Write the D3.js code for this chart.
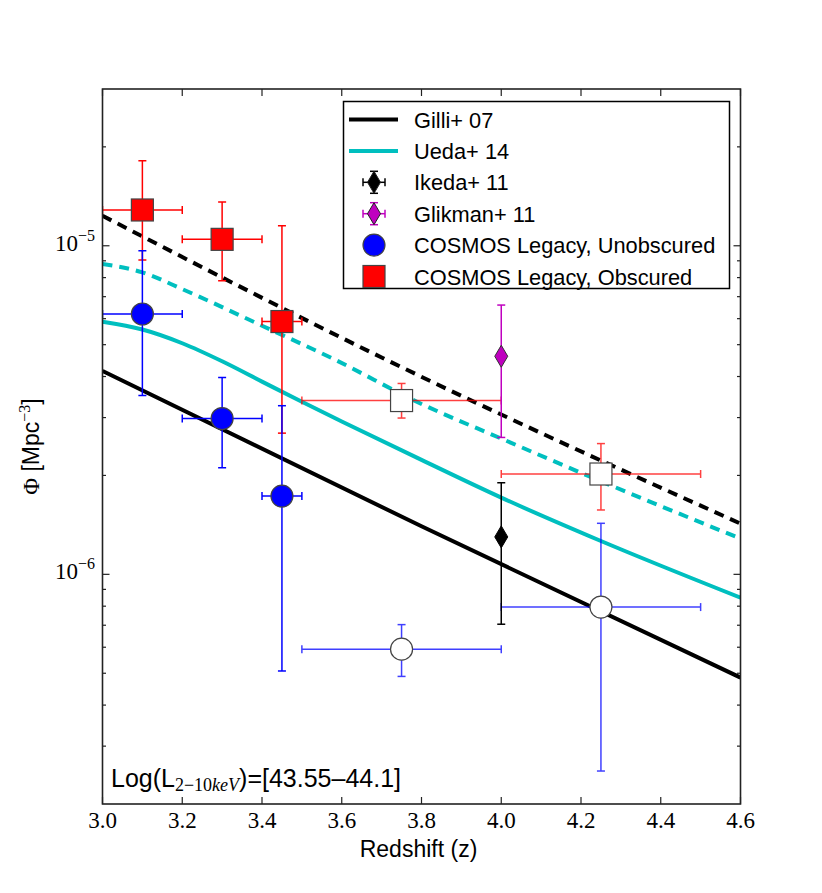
<!DOCTYPE html>
<html>
<head>
<meta charset="utf-8">
<script src="https://cdn.jsdelivr.net/npm/d3@7"></script>
<style>
  body { margin: 0; background: #fff; }
  text { fill: #000; }
</style>
</head>
<body>
<svg id="chart" width="822" height="893"></svg>
<script>
"use strict";

// courbes de modèle
var gilliZ = [3.0, 3.8, 4.6]
var gilliPhi = [4.16e-6, 1.40e-6, 4.85e-7]
var gilliObsZ = [3.0, 3.7, 4.6]
var gilliObsPhi = [1.234e-5, 4.57e-6, 1.427e-6]
var uedaZ = [3.0, 3.1, 3.2, 3.3, 3.4, 3.5, 3.6, 3.8, 4.0, 4.25, 4.6]
var uedaPhi = [5.87e-6, 5.56e-6, 5.05e-6, 4.45e-6, 3.86e-6, 3.35e-6, 2.92e-6, 2.23e-6, 1.712e-6, 1.263e-6, 8.49e-7]
var uedaObsZ = [3.0, 3.1, 3.2, 3.4, 3.58, 3.8, 4.0, 4.25, 4.6]
var uedaObsPhi = [8.8e-6, 8.3e-6, 7.38e-6, 5.71e-6, 4.52e-6, 3.30e-6, 2.59e-6, 1.92e-6, 1.285e-6]

// COSMOS Legacy, non obscurcis
var unobsZ = [3.1, 3.3, 3.45, 3.75, 4.25]
var unobsZLo = [3.0, 3.2, 3.4, 3.5, 4.0]
var unobsZHi = [3.2, 3.4, 3.5, 4.0, 4.5]
var unobsPhi = [6.2e-6, 2.98e-6, 1.73e-6, 5.92e-7, 7.95e-7]
var unobsPhiLo = [3.5e-6, 2.11e-6, 5.08e-7, 4.89e-7, 2.52e-7]
var unobsPhiHi = [9.66e-6, 3.97e-6, 3.26e-6, 7.03e-7, 1.43e-6]
var unobsOpen = [false, false, false, true, true]

// COSMOS Legacy, obscurcis
var obsZ = [3.1, 3.3, 3.45, 3.75, 4.25]
var obsZLo = [3.0, 3.2, 3.4, 3.5, 4.0]
var obsZHi = [3.2, 3.4, 3.5, 4.0, 4.5]
var obsPhi = [1.285e-5, 1.046e-5, 5.88e-6, 3.38e-6, 2.02e-6]
var obsPhiLo = [9.05e-6, 7.82e-6, 2.69e-6, 2.99e-6, 1.57e-6]
var obsPhiHi = [1.815e-5, 1.36e-5, 1.15e-5, 3.81e-6, 2.5e-6]
var obsOpen = [false, false, false, true, true]

// Ikeda+ 11 et Glikman+ 11
var ikedaZ = [4.0], ikedaPhi = [1.30e-6], ikedaPhiLo = [7.05e-7], ikedaPhiHi = [1.90e-6]
var glikZ = [4.0], glikPhi = [4.61e-6], glikPhiLo = [2.61e-6], glikPhiHi = [6.6e-6]

var xTicks = [3.0, 3.2, 3.4, 3.6, 3.8, 4.0, 4.2, 4.4, 4.6]
var yMajor = [1e-6, 1e-5]
var yMajorLabels = ["\u22126", "\u22125"]

var legendLabels = ["Gilli+ 07", "Ueda+ 14", "Ikeda+ 11", "Glikman+ 11",
  "COSMOS Legacy, Unobscured", "COSMOS Legacy, Obscured"]

var svg = d3.select("#chart")
var m = { left: 102.5, right: 740.5, top: 89, bottom: 804 }
var serif = "'Liberation Serif', 'DejaVu Serif', serif"
var sans = "'Liberation Sans', Arial, sans-serif"

var x = d3.scaleLinear().domain([3.0, 4.6]).range([m.left, m.right])
var y = d3.scaleLog().domain([2e-7, 3e-5]).range([m.bottom, m.top])

svg.append("clipPath").attr("id", "clip")
  .append("rect")
    .attr("x", m.left).attr("y", m.top)
    .attr("width", m.right - m.left).attr("height", m.bottom - m.top)

var plot = svg.append("g").attr("clip-path", "url(#clip)")

function zip(zs, phis) {
  return zs.map(function(z, i) { return [z, phis[i]] })
}

var line = d3.line()
  .x(function(d) { return x(d[0]) })
  .y(function(d) { return y(d[1]) })
  .curve(d3.curveMonotoneX)

var curves = [
  { data: zip(gilliZ, gilliPhi), color: "#000000", dash: null },
  { data: zip(gilliObsZ, gilliObsPhi), color: "#000000", dash: "10,7" },
  { data: zip(uedaZ, uedaPhi), color: "#00bfbf", dash: null },
  { data: zip(uedaObsZ, uedaObsPhi), color: "#00bfbf", dash: "10,7" }
]

plot.selectAll("path.model")
  .data(curves)
  .enter()
  .append("path")
    .attr("class", "model")
    .attr("d", function(d) { return line(d.data) })
    .attr("fill", "none")
    .attr("stroke", function(d) { return d.color })
    .attr("stroke-width", 4)
    .attr("stroke-dasharray", function(d) { return d.dash })

// barres d'erreur
function errorBars(g, pts, color) {
  var cap = 4
  pts.forEach(function(p) {
    var e = g.append("g")
      .attr("stroke", color)
      .attr("stroke-width", 1.5)
      .attr("opacity", p.open ? 0.75 : 1)
    var cx = x(p.z), cy = y(p.phi)
    e.append("line").attr("x1", cx).attr("x2", cx).attr("y1", y(p.lo)).attr("y2", y(p.hi))
    e.append("line").attr("x1", cx - cap).attr("x2", cx + cap).attr("y1", y(p.lo)).attr("y2", y(p.lo))
    e.append("line").attr("x1", cx - cap).attr("x2", cx + cap).attr("y1", y(p.hi)).attr("y2", y(p.hi))
    if (p.zLo != null) {
      e.append("line").attr("x1", x(p.zLo)).attr("x2", x(p.zHi)).attr("y1", cy).attr("y2", cy)
      e.append("line").attr("x1", x(p.zLo)).attr("x2", x(p.zLo)).attr("y1", cy - cap).attr("y2", cy + cap)
      e.append("line").attr("x1", x(p.zHi)).attr("x2", x(p.zHi)).attr("y1", cy - cap).attr("y2", cy + cap)
    }
  })
}

function points(zs, zLo, zHi, phis, lo, hi, open) {
  return zs.map(function(z, i) {
    return {
      z: z, zLo: zLo ? zLo[i] : null, zHi: zHi ? zHi[i] : null,
      phi: phis[i], lo: lo[i], hi: hi[i], open: open ? open[i] : false
    }
  })
}

var unobsPts = points(unobsZ, unobsZLo, unobsZHi, unobsPhi, unobsPhiLo, unobsPhiHi, unobsOpen)
var obsPts = points(obsZ, obsZLo, obsZHi, obsPhi, obsPhiLo, obsPhiHi, obsOpen)
var ikedaPts = points(ikedaZ, null, null, ikedaPhi, ikedaPhiLo, ikedaPhiHi, null)
var glikPts = points(glikZ, null, null, glikPhi, glikPhiLo, glikPhiHi, null)

var errG = plot.append("g")
errorBars(errG, obsPts, "#ff0000")
errorBars(errG, unobsPts, "#0000ff")
errorBars(errG, ikedaPts, "#000000")
errorBars(errG, glikPts, "#bf00bf")

// marqueurs
function diamondPath(cx, cy) {
  return "M" + cx + "," + (cy - 11) + "L" + (cx + 6.5) + "," + cy +
    "L" + cx + "," + (cy + 11) + "L" + (cx - 6.5) + "," + cy + "Z"
}

var markG = plot.append("g")
markG.selectAll("rect.obs")
  .data(obsPts)
  .enter()
  .append("rect")
    .attr("class", "obs")
    .attr("x", function(d) { return x(d.z) - 11 })
    .attr("y", function(d) { return y(d.phi) - 11 })
    .attr("width", 22).attr("height", 22)
    .attr("fill", function(d) { return d.open ? "#ffffff" : "#ff0000" })
    .attr("stroke", "#444").attr("stroke-width", 1.2)

markG.selectAll("circle.unobs")
  .data(unobsPts)
  .enter()
  .append("circle")
    .attr("class", "unobs")
    .attr("cx", function(d) { return x(d.z) })
    .attr("cy", function(d) { return y(d.phi) })
    .attr("r", 11)
    .attr("fill", function(d) { return d.open ? "#ffffff" : "#0000ff" })
    .attr("stroke", "#444").attr("stroke-width", 1.2)

markG.selectAll("path.ikeda")
  .data(ikedaPts)
  .enter()
  .append("path")
    .attr("d", function(d) { return diamondPath(x(d.z), y(d.phi)) })
    .attr("fill", "#000000").attr("stroke", "#000").attr("stroke-width", 1)

markG.selectAll("path.glik")
  .data(glikPts)
  .enter()
  .append("path")
    .attr("d", function(d) { return diamondPath(x(d.z), y(d.phi)) })
    .attr("fill", "#bf00bf").attr("stroke", "#333").attr("stroke-width", 1)

// axes et graduations (vers l'intérieur, sur les quatre côtés)
var axes = svg.append("g").attr("stroke", "#222").attr("stroke-width", 1.2)
xTicks.forEach(function(t) {
  axes.append("line").attr("x1", x(t)).attr("x2", x(t)).attr("y1", m.bottom).attr("y2", m.bottom - 7)
  axes.append("line").attr("x1", x(t)).attr("x2", x(t)).attr("y1", m.top).attr("y2", m.top + 7)
})
var yMinor = []
;[1e-7, 1e-6, 1e-5].forEach(function(dec) {
  for (var k = 2; k <= 9; k++) {
    var v = dec * k
    if (v > 2e-7 && v < 3e-5) yMinor.push(v)
  }
})
yMinor.forEach(function(v) {
  axes.append("line").attr("x1", m.left).attr("x2", m.left + 3.5).attr("y1", y(v)).attr("y2", y(v))
  axes.append("line").attr("x1", m.right).attr("x2", m.right - 3.5).attr("y1", y(v)).attr("y2", y(v))
})
yMajor.forEach(function(v) {
  axes.append("line").attr("x1", m.left).attr("x2", m.left + 7).attr("y1", y(v)).attr("y2", y(v))
  axes.append("line").attr("x1", m.right).attr("x2", m.right - 7).attr("y1", y(v)).attr("y2", y(v))
})
svg.append("rect")
  .attr("x", m.left).attr("y", m.top)
  .attr("width", m.right - m.left).attr("height", m.bottom - m.top)
  .attr("fill", "none").attr("stroke", "#222").attr("stroke-width", 1.6)

svg.append("g").selectAll("text")
  .data(xTicks)
  .enter()
  .append("text")
    .attr("x", function(d) { return x(d) })
    .attr("y", m.bottom + 24)
    .attr("text-anchor", "middle")
    .style("font-family", serif)
    .style("font-size", "23px")
    .text(function(d) { return d3.format(".1f")(d) })

yMajor.forEach(function(v, i) {
  var t = svg.append("text")
    .attr("x", 95).attr("y", y(v) + 5)
    .attr("text-anchor", "end")
    .style("font-family", serif)
    .style("font-size", "23px")
  t.append("tspan").text("10")
  t.append("tspan").attr("dy", -10).style("font-size", "16px").text(yMajorLabels[i])
})

svg.append("text")
  .attr("x", (m.left + m.right) / 2 - 3)
  .attr("y", 857)
  .attr("text-anchor", "middle")
  .style("font-family", sans)
  .style("font-size", "23px")
  .text("Redshift (z)")

var yl = svg.append("text")
  .attr("transform", "translate(39," + ((m.top + m.bottom) / 2) + ") rotate(-90)")
  .attr("text-anchor", "middle")
  .style("font-family", sans)
  .style("font-size", "23px")
yl.append("tspan").style("font-family", serif).text("\u03A6")
yl.append("tspan").text(" [Mpc")
yl.append("tspan").attr("dy", -9).style("font-family", serif).style("font-size", "16px").text("\u22123")
yl.append("tspan").attr("dy", 9).text("]")

// annotation de luminosité
var ann = svg.append("text")
  .attr("x", 111).attr("y", 787)
  .style("font-family", sans)
  .style("font-size", "25px")
ann.append("tspan").text("Log(L")
ann.append("tspan").attr("dy", 4).style("font-family", serif).style("font-size", "18px").text("2\u221210")
ann.append("tspan").style("font-family", serif).style("font-style", "italic").style("font-size", "18px").text("keV")
ann.append("tspan").attr("dy", -4).text(")=[43.55\u201344.1]")

// légende
var lg = svg.append("g")
lg.append("rect")
  .attr("x", 343.5).attr("y", 101.5).attr("width", 386).attr("height", 187)
  .attr("fill", "#fff").attr("stroke", "#000").attr("stroke-width", 1.5)

var rowY = function(i) { return 119.5 + i * 31.4 }
var hx = 374

lg.selectAll("text")
  .data(legendLabels)
  .enter()
  .append("text")
    .attr("x", 414)
    .attr("y", function(d, i) { return rowY(i) + 8 })
    .style("font-family", sans)
    .style("font-size", "21.8px")
    .text(function(d) { return d })

lg.append("line").attr("x1", 349).attr("x2", 398).attr("y1", rowY(0)).attr("y2", rowY(0))
  .attr("stroke", "#000").attr("stroke-width", 4)
lg.append("line").attr("x1", 349).attr("x2", 398).attr("y1", rowY(1)).attr("y2", rowY(1))
  .attr("stroke", "#00bfbf").attr("stroke-width", 4)

function legendErr(i, color, fill) {
  var cy = rowY(i), g = lg.append("g").attr("stroke", color).attr("stroke-width", 1.5)
  g.append("line").attr("x1", hx).attr("x2", hx).attr("y1", cy - 11).attr("y2", cy + 11)
  g.append("line").attr("x1", hx - 11).attr("x2", hx + 11).attr("y1", cy).attr("y2", cy)
  g.append("line").attr("x1", hx - 4).attr("x2", hx + 4).attr("y1", cy - 11).attr("y2", cy - 11)
  g.append("line").attr("x1", hx - 4).attr("x2", hx + 4).attr("y1", cy + 11).attr("y2", cy + 11)
  g.append("line").attr("x1", hx - 11).attr("x2", hx - 11).attr("y1", cy - 4).attr("y2", cy + 4)
  g.append("line").attr("x1", hx + 11).attr("x2", hx + 11).attr("y1", cy - 4).attr("y2", cy + 4)
  lg.append("path").attr("d", diamondPath(hx, cy)).attr("fill", fill)
    .attr("stroke", "#222").attr("stroke-width", 1)
}
legendErr(2, "#000000", "#000000")
legendErr(3, "#bf00bf", "#bf00bf")

lg.append("circle").attr("cx", hx).attr("cy", rowY(4)).attr("r", 11)
  .attr("fill", "#0000ff").attr("stroke", "#444").attr("stroke-width", 1.2)
lg.append("rect").attr("x", hx - 11).attr("y", rowY(5) - 11).attr("width", 22).attr("height", 22)
  .attr("fill", "#ff0000").attr("stroke", "#444").attr("stroke-width", 1.2)
</script>
</body>
</html>
